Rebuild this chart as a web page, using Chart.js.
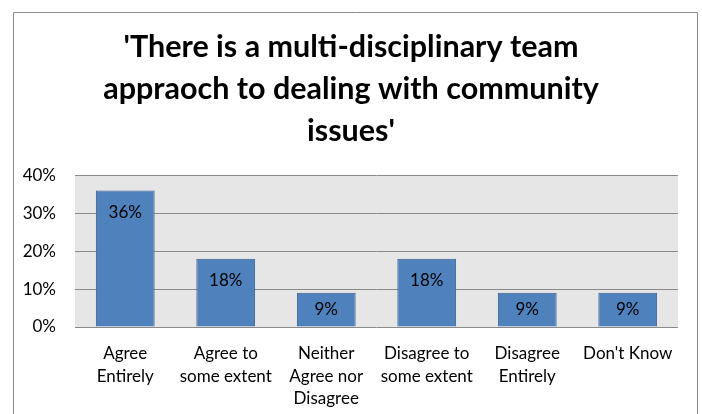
<!DOCTYPE html>
<html>
<head>
<meta charset="utf-8">
<script src="https://cdn.jsdelivr.net/npm/chart.js@4/dist/chart.umd.min.js"></script>
<style>
  html, body { margin: 0; padding: 0; background: #fff; }
  #wrap { width: 702px; height: 414px; position: relative; }
</style>
</head>
<body>
<div id="wrap"><canvas id="c" width="702" height="414"></canvas></div>
<script>
// Survey responses (percent of respondents)
const titleLines = ["'There is a multi-disciplinary team", "appraoch to dealing with community", "issues'"];
const categories = [
  ["Agree", "Entirely"],
  ["Agree to", "some extent"],
  ["Neither", "Agree nor", "Disagree"],
  ["Disagree to", "some extent"],
  ["Disagree", "Entirely"],
  ["Don't Know"]
];
const values = [36, 18, 9, 18, 9, 9];
const yTicks = [0, 10, 20, 30, 40];

const FONT = "Lato, 'Open Sans', sans-serif";

// Outer frame and grey plot background
const framePlugin = {
  id: 'frame',
  beforeDraw(chart) {
    const ctx = chart.ctx;
    const a = chart.chartArea;
    ctx.save();
    ctx.fillStyle = '#ffffff';
    ctx.fillRect(0, 0, chart.width, chart.height);
    ctx.strokeStyle = '#8c8c8c';
    ctx.lineWidth = 1;
    ctx.beginPath();
    ctx.moveTo(13.5, chart.height + 2);
    ctx.lineTo(13.5, 12.5);
    ctx.lineTo(697.5, 12.5);
    ctx.lineTo(697.5, chart.height + 2);
    ctx.stroke();
    ctx.fillStyle = '#e6e6e6';
    ctx.fillRect(a.left, a.top, a.right - a.left, a.bottom - a.top);
    ctx.restore();
  }
};

// Value labels just inside the top of each bar
const valueLabelPlugin = {
  id: 'valueLabels',
  afterDatasetsDraw(chart) {
    const ctx = chart.ctx;
    const meta = chart.getDatasetMeta(0);
    ctx.save();
    ctx.font = '17px ' + FONT;
    ctx.fillStyle = '#000000';
    ctx.textAlign = 'center';
    ctx.textBaseline = 'middle';
    meta.data.forEach((bar, i) => {
      const top = bar.y, bottom = bar.base;
      const y = Math.min(top + 22, (top + bottom) / 2);
      ctx.fillText(values[i] + '%', bar.x, y);
    });
    ctx.restore();
  }
};

new Chart(document.getElementById('c'), {
  type: 'bar',
  data: {
    labels: categories,
    datasets: [{
      data: values,
      backgroundColor: '#4f81bd',
      borderColor: '#385d8a',
      borderWidth: 1,
      categoryPercentage: 0.585,
      barPercentage: 1
    }]
  },
  options: {
    responsive: false,
    animation: false,
    devicePixelRatio: 1,
    layout: { padding: 0 },
    plugins: {
      legend: { display: false },
      tooltip: { enabled: false },
      title: {
        display: true,
        text: titleLines,
        color: '#000000',
        font: { family: FONT, size: 30.5, weight: 'bold', lineHeight: 1.38 },
        padding: { top: 26, bottom: 23 }
      }
    },
    scales: {
      x: {
        grid: { display: false, drawTicks: false },
        border: { display: false },
        ticks: {
          color: '#000000',
          font: { family: FONT, size: 17, lineHeight: 1.34 },
          padding: 15,
          maxRotation: 0,
          autoSkip: false
        },
        afterFit(scale) { scale.height = 87; }
      },
      y: {
        min: 0,
        max: 40,
        afterBuildTicks(scale) { scale.ticks = yTicks.map(v => ({ value: v })); },
        grid: { color: '#8a8a8a', lineWidth: 1, drawTicks: false },
        border: { display: false },
        ticks: {
          color: '#000000',
          font: { family: FONT, size: 17 },
          padding: 19,
          callback: v => v + '%'
        },
        afterFit(scale) { scale.width = 75; }
      },
      // empty right-hand gutter so the plot ends short of the frame
      gutter: {
        position: 'right',
        min: 0,
        max: 40,
        grid: { display: false, drawTicks: false },
        border: { display: false },
        ticks: { display: false },
        afterFit(scale) { scale.width = 24; }
      }
    }
  },
  plugins: [framePlugin, valueLabelPlugin]
});
</script>
</body>
</html>
